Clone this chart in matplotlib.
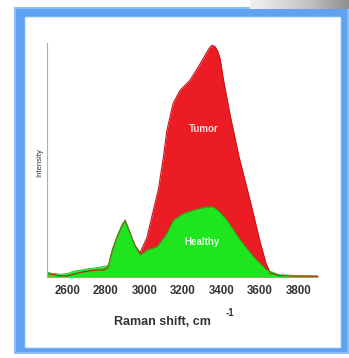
import numpy as np
import matplotlib.pyplot as plt
from matplotlib.patches import Rectangle

# Raman spectra, high wavenumber region (relative intensity)
shift_tumor = [2495, 2530, 2564, 2600, 2633, 2670, 2702, 2750, 2788, 2810,
               2832, 2857, 2883, 2900, 2926, 2952, 2978, 3013, 3047, 3073,
               3099, 3116, 3149, 3185, 3237, 3289, 3320, 3338, 3350, 3365,
               3380, 3393, 3410, 3444, 3490, 3548, 3600, 3630, 3652, 3700,
               3800, 3900]
tumor = [0.016, 0.010, 0.005, 0.005, 0.012, 0.020, 0.025, 0.030, 0.030, 0.040,
         0.110, 0.170, 0.220, 0.245, 0.190, 0.135, 0.105, 0.170, 0.290, 0.380,
         0.520, 0.630, 0.750, 0.806, 0.850, 0.920, 0.965, 0.990, 1.000, 0.995,
         0.975, 0.940, 0.850, 0.700, 0.520, 0.330, 0.150, 0.060, 0.017, 0.006,
         0.004, 0.003]

shift_healthy = [2495, 2530, 2564, 2600, 2633, 2670, 2702, 2750, 2788, 2814,
                 2832, 2857, 2883, 2900, 2926, 2952, 2978, 3013, 3065, 3110,
                 3151, 3203, 3260, 3324, 3356, 3390, 3427, 3496, 3564, 3634,
                 3700, 3800, 3900]
healthy = [0.020, 0.015, 0.012, 0.015, 0.025, 0.030, 0.035, 0.040, 0.045, 0.050,
           0.116, 0.174, 0.224, 0.246, 0.188, 0.131, 0.095, 0.116, 0.131, 0.180,
           0.246, 0.275, 0.290, 0.303, 0.303, 0.280, 0.246, 0.160, 0.088, 0.030,
           0.010, 0.006, 0.005]

xticks = [2600, 2800, 3000, 3200, 3400, 3600, 3800]

W, H = 349, 358
fig = plt.figure(figsize=(W / 100, H / 100), dpi=100)
fig.patch.set_facecolor('white')

# grey strip at the top right corner
strip = fig.add_axes([250 / W, 1 - 9 / H, 99 / W, 9 / H])
grad = np.linspace(0, 1, 100)[None, :]
strip.imshow(grad, cmap='Greys', vmin=-0.3, vmax=2.2, aspect='auto')
strip.axis('off')

# blue frame
fig.add_artist(Rectangle((15 / W, 1 - 353 / H), 333 / W, 345 / H,
                         transform=fig.transFigure, facecolor='#5fa2f2',
                         edgecolor='#8cbcf5', lw=1.5, zorder=0))
fig.add_artist(Rectangle((25 / W, 1 - 347 / H), 315 / W, 330 / H,
                         transform=fig.transFigure, facecolor='white',
                         edgecolor='#dbe9fb', lw=1.0, zorder=0))

ax = fig.add_axes([47 / W, 1 - 277 / H, 271 / W, 234 / H])
ax.patch.set_alpha(0)

ax.fill_between(shift_tumor, tumor, 0, color='#ec1c24', lw=0)
ax.plot(shift_tumor, tumor, color='#c8141a', lw=0.8)
ax.fill_between(shift_healthy, healthy, 0, color='#1ee51e', lw=0)
ax.plot(shift_healthy, healthy, color='#14b814', lw=0.6)

ax.text(3306, 0.64, 'Tumor', color='#f6dede', fontsize=7, fontweight='bold',
        ha='center', va='center', family='Liberation Sans')
ax.text(3298, 0.152, 'Healthy', color='#e2fbe2', fontsize=7, fontweight='bold',
        ha='center', va='center', family='Liberation Sans')

ax.set_xlim(2495, 3900)
ax.set_ylim(0, 1.01)
ax.set_xticks(xticks)
ax.set_xticklabels([str(t) for t in xticks], fontsize=8.3, fontweight='bold',
                   color='#333333', family='Liberation Sans')
ax.tick_params(axis='x', length=0, pad=6)
ax.set_yticks([])
for s in ['top', 'right', 'bottom']:
    ax.spines[s].set_visible(False)
ax.spines['left'].set_color('#b0b0b0')
ax.spines['left'].set_linewidth(0.8)

fig.text(40 / W, 1 - 163 / H, 'Intensity', rotation=90, fontsize=5.5,
         color='#333333', ha='center', va='center', family='Liberation Sans')
fig.text(162 / W, 1 - 322 / H, 'Raman shift, cm', fontsize=9, fontweight='bold',
         color='#333333', ha='center', va='center', family='Liberation Sans')
fig.text(230 / W, 1 - 313 / H, '-1', fontsize=7, fontweight='bold',
         color='#333333', ha='center', va='center', family='Liberation Sans')

fig.savefig('out.png', dpi=100)
